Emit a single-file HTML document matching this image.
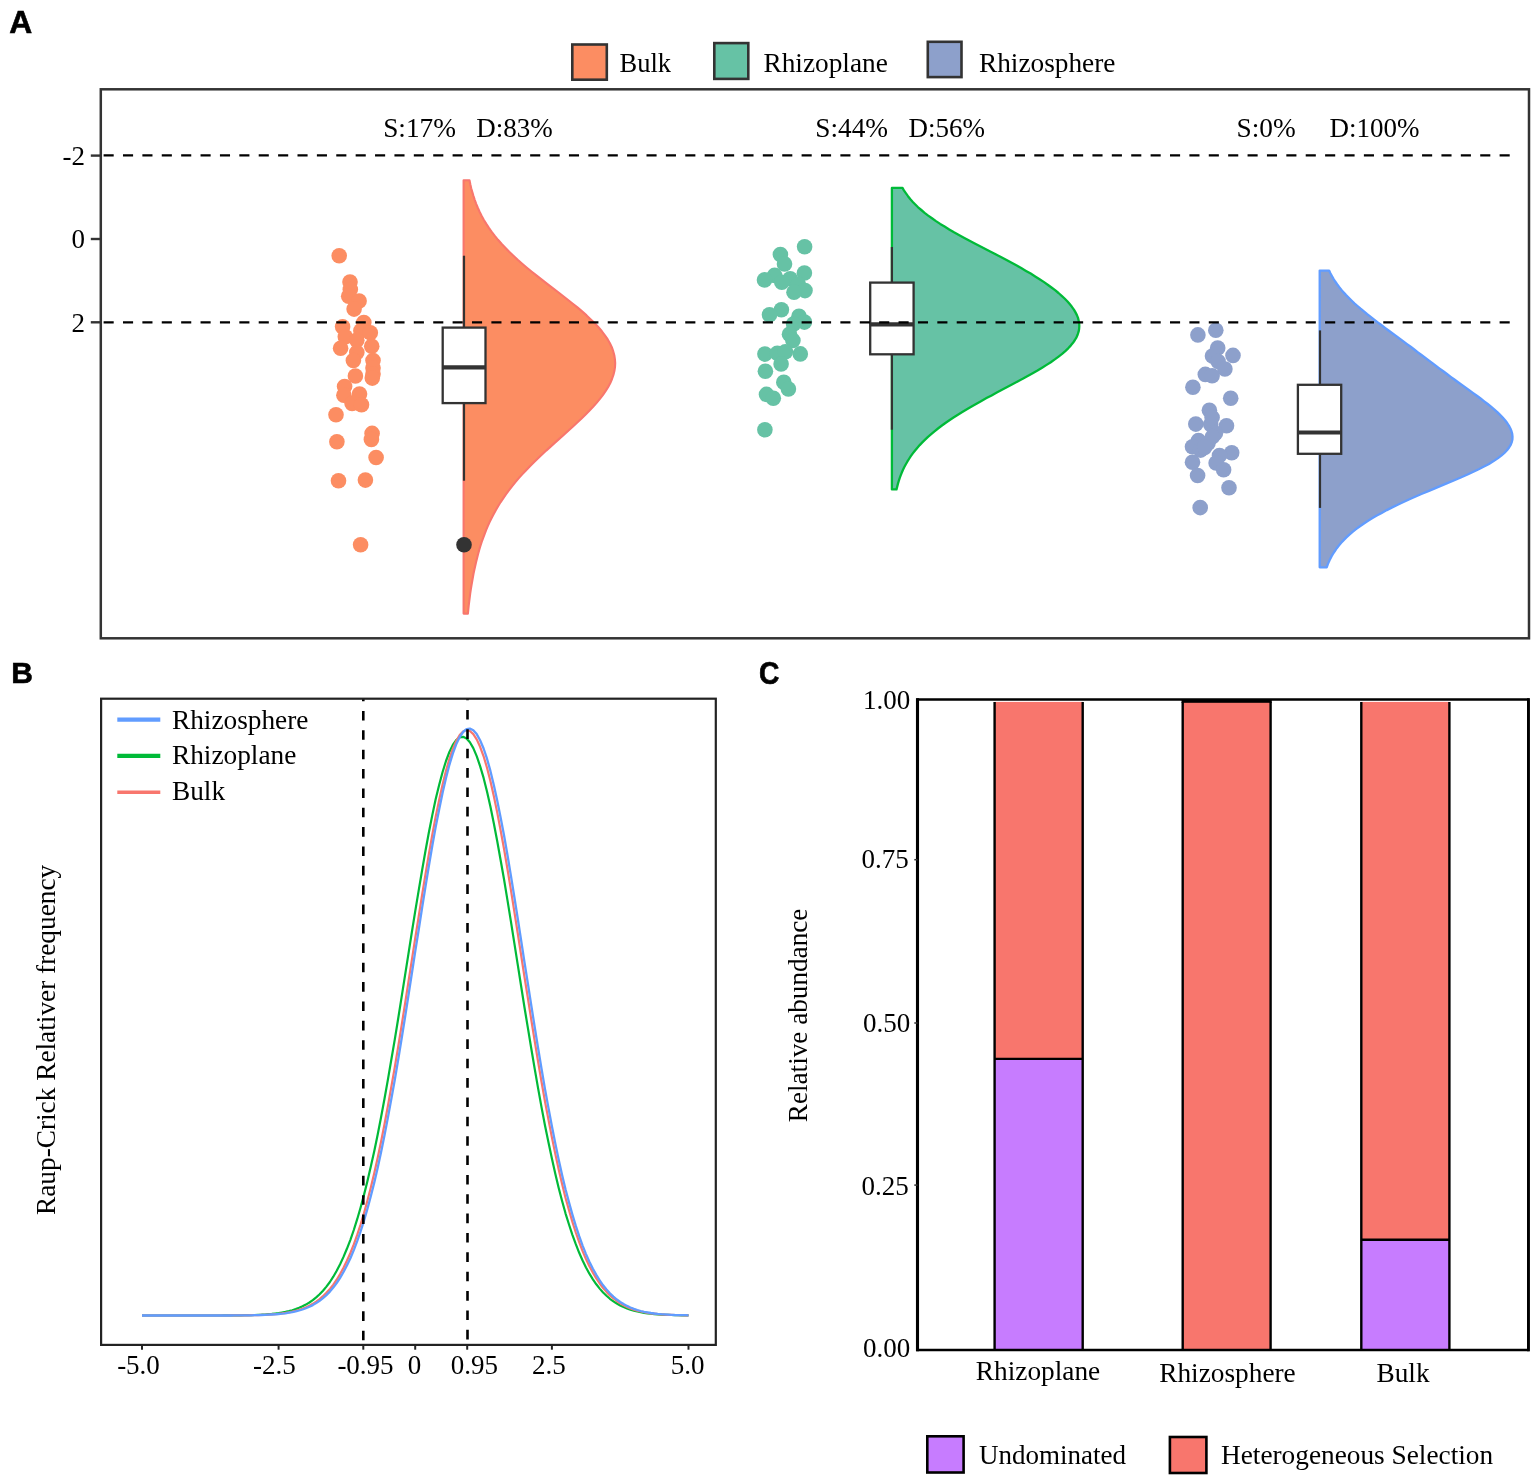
<!DOCTYPE html>
<html lang="en"><head><meta charset="utf-8"><title>Figure</title>
<style>html,body{margin:0;padding:0;background:#fff}svg{display:block}text{font-family:"Liberation Serif", "Times New Roman", serif;font-size:27.3px;fill:#000}.tk{font-size:27px}.lab{font-family:"Liberation Sans", Arial, sans-serif;font-weight:bold;font-size:30.4px;stroke:#000;stroke-width:0.6px}</style></head><body>
<svg width="1535" height="1479" viewBox="0 0 1535 1479">
<rect x="0" y="0" width="1535" height="1479" fill="#fff"/>
<g id="panelA">
<text x="9.3" y="32.7" class="lab" style="font-size:31.8px">A</text>
<rect x="572.3" y="44.5" width="34.5" height="35.2" fill="#FC8D62" stroke="#333" stroke-width="2.6"/>
<text x="619.5" y="72.1" style="font-size:26.5px">Bulk</text>
<rect x="714.3" y="43.1" width="34" height="35.8" fill="#66C2A5" stroke="#333" stroke-width="2.6"/>
<text x="763.5" y="72.1">Rhizoplane</text>
<rect x="927.8" y="41.8" width="33.7" height="35.3" fill="#8DA0CB" stroke="#333" stroke-width="2.6"/>
<text x="979" y="72.1">Rhizosphere</text>
<path d="M463.6,180.2 L469.5,180.2 L470.3,184.2 L471.2,188.2 L472.3,192.1 L473.5,196.1 L474.8,200.1 L476.3,204.1 L477.9,208.0 L479.7,212.0 L481.7,216.0 L483.9,220.0 L486.3,223.9 L488.9,227.9 L491.7,231.9 L494.8,235.9 L498.0,239.8 L501.5,243.8 L505.3,247.8 L509.2,251.8 L513.4,255.7 L517.7,259.7 L522.2,263.7 L526.9,267.7 L531.8,271.7 L536.7,275.6 L541.8,279.6 L546.9,283.6 L552.1,287.6 L557.3,291.5 L562.4,295.5 L567.5,299.5 L572.5,303.5 L577.4,307.4 L582.1,311.4 L586.6,315.4 L590.8,319.4 L594.8,323.3 L598.5,327.3 L601.9,331.3 L604.9,335.3 L607.6,339.2 L609.9,343.2 L611.8,347.2 L613.2,351.2 L614.3,355.2 L614.9,359.1 L615.2,363.1 L615.0,367.1 L614.4,371.1 L613.4,375.0 L612.0,379.0 L610.3,383.0 L608.2,387.0 L605.7,390.9 L603.0,394.9 L599.9,398.9 L596.6,402.9 L593.1,406.8 L589.3,410.8 L585.4,414.8 L581.3,418.8 L577.0,422.7 L572.7,426.7 L568.3,430.7 L563.9,434.7 L559.5,438.6 L555.0,442.6 L550.6,446.6 L546.2,450.6 L542.0,454.6 L537.8,458.5 L533.7,462.5 L529.7,466.5 L525.9,470.5 L522.2,474.4 L518.6,478.4 L515.2,482.4 L512.0,486.4 L508.9,490.3 L505.9,494.3 L503.2,498.3 L500.5,502.3 L498.1,506.2 L495.8,510.2 L493.6,514.2 L491.5,518.2 L489.6,522.1 L487.8,526.1 L486.1,530.1 L484.6,534.1 L483.1,538.1 L481.7,542.0 L480.4,546.0 L479.2,550.0 L478.1,554.0 L477.1,557.9 L476.1,561.9 L475.2,565.9 L474.3,569.9 L473.5,573.8 L472.8,577.8 L472.1,581.8 L471.4,585.8 L470.8,589.7 L470.2,593.7 L469.7,597.7 L469.2,601.7 L468.7,605.6 L468.3,609.6 L467.9,613.6 L463.6,613.6 Z" fill="#FC8D62" stroke="#F8766D" stroke-width="2.1" stroke-linejoin="round"/>
<path d="M891.9,187.9 L902.5,187.9 L904.1,190.7 L906.0,193.4 L908.0,196.2 L910.2,199.0 L912.6,201.7 L915.3,204.5 L918.1,207.3 L921.3,210.0 L924.6,212.8 L928.2,215.6 L932.0,218.3 L936.0,221.1 L940.2,223.9 L944.6,226.6 L949.2,229.4 L954.0,232.2 L958.9,234.9 L963.9,237.7 L969.1,240.5 L974.3,243.2 L979.6,246.0 L984.9,248.8 L990.2,251.5 L995.6,254.3 L1000.9,257.1 L1006.1,259.8 L1011.2,262.6 L1016.3,265.3 L1021.2,268.1 L1026.0,270.9 L1030.7,273.6 L1035.2,276.4 L1039.6,279.2 L1043.7,281.9 L1047.7,284.7 L1051.5,287.5 L1055.1,290.2 L1058.5,293.0 L1061.7,295.8 L1064.6,298.5 L1067.3,301.3 L1069.7,304.1 L1071.9,306.8 L1073.9,309.6 L1075.5,312.4 L1076.9,315.1 L1078.0,317.9 L1078.7,320.7 L1079.2,323.4 L1079.3,326.2 L1079.1,329.0 L1078.6,331.7 L1077.7,334.5 L1076.5,337.3 L1074.9,340.0 L1073.0,342.8 L1070.7,345.6 L1068.2,348.3 L1065.3,351.1 L1062.1,353.9 L1058.6,356.6 L1054.8,359.4 L1050.8,362.2 L1046.6,364.9 L1042.1,367.7 L1037.5,370.5 L1032.7,373.2 L1027.7,376.0 L1022.7,378.8 L1017.6,381.5 L1012.4,384.3 L1007.2,387.1 L1002.0,389.8 L996.8,392.6 L991.6,395.4 L986.5,398.1 L981.4,400.9 L976.5,403.7 L971.6,406.4 L966.9,409.2 L962.3,412.0 L957.9,414.7 L953.5,417.5 L949.4,420.2 L945.4,423.0 L941.6,425.8 L938.0,428.5 L934.5,431.3 L931.2,434.1 L928.0,436.8 L925.1,439.6 L922.3,442.4 L919.7,445.1 L917.2,447.9 L914.9,450.7 L912.8,453.4 L910.8,456.2 L909.0,459.0 L907.3,461.7 L905.7,464.5 L904.2,467.3 L902.9,470.0 L901.7,472.8 L900.6,475.6 L899.6,478.3 L898.7,481.1 L897.9,483.9 L897.2,486.6 L896.5,489.4 L891.9,489.4 Z" fill="#66C2A5" stroke="#00BA38" stroke-width="2.3" stroke-linejoin="round"/>
<path d="M1319.7,270.6 L1329.1,270.6 L1330.4,273.3 L1331.9,276.0 L1333.5,278.8 L1335.2,281.5 L1337.1,284.2 L1339.1,286.9 L1341.3,289.7 L1343.6,292.4 L1346.1,295.1 L1348.8,297.8 L1351.5,300.5 L1354.4,303.3 L1357.5,306.0 L1360.6,308.7 L1363.9,311.4 L1367.2,314.2 L1370.7,316.9 L1374.2,319.6 L1377.7,322.3 L1381.3,325.0 L1385.0,327.8 L1388.6,330.5 L1392.3,333.2 L1396.0,335.9 L1399.7,338.7 L1403.4,341.4 L1407.0,344.1 L1410.7,346.8 L1414.3,349.5 L1417.9,352.3 L1421.5,355.0 L1425.1,357.7 L1428.7,360.4 L1432.4,363.1 L1436.0,365.9 L1439.6,368.6 L1443.3,371.3 L1447.0,374.0 L1450.7,376.8 L1454.4,379.5 L1458.1,382.2 L1461.9,384.9 L1465.7,387.6 L1469.5,390.4 L1473.2,393.1 L1476.9,395.8 L1480.6,398.5 L1484.2,401.3 L1487.7,404.0 L1491.0,406.7 L1494.2,409.4 L1497.3,412.1 L1500.1,414.9 L1502.7,417.6 L1505.1,420.3 L1507.2,423.0 L1509.0,425.8 L1510.4,428.5 L1511.5,431.2 L1512.2,433.9 L1512.5,436.6 L1512.4,439.4 L1511.8,442.1 L1510.7,444.8 L1509.1,447.5 L1507.0,450.3 L1504.4,453.0 L1501.3,455.7 L1497.7,458.4 L1493.6,461.1 L1489.0,463.9 L1484.0,466.6 L1478.7,469.3 L1472.9,472.0 L1467.0,474.8 L1460.8,477.5 L1454.4,480.2 L1447.9,482.9 L1441.4,485.6 L1434.9,488.4 L1428.4,491.1 L1422.0,493.8 L1415.7,496.5 L1409.5,499.2 L1403.5,502.0 L1397.7,504.7 L1392.2,507.4 L1386.8,510.1 L1381.7,512.9 L1376.8,515.6 L1372.1,518.3 L1367.7,521.0 L1363.6,523.7 L1359.6,526.5 L1356.0,529.2 L1352.6,531.9 L1349.4,534.6 L1346.4,537.4 L1343.7,540.1 L1341.2,542.8 L1338.9,545.5 L1336.8,548.2 L1334.9,551.0 L1333.1,553.7 L1331.5,556.4 L1330.1,559.1 L1328.8,561.9 L1327.7,564.6 L1326.7,567.3 L1319.7,567.3 Z" fill="#8DA0CB" stroke="#619CFF" stroke-width="2.3" stroke-linejoin="round"/>
<g fill="#FC8D62"><circle cx="339.2" cy="255.7" r="7.8"/><circle cx="350.0" cy="282.1" r="7.8"/><circle cx="350.3" cy="289.5" r="7.8"/><circle cx="348.7" cy="296.3" r="7.8"/><circle cx="359.1" cy="301.0" r="7.8"/><circle cx="354.1" cy="309.1" r="7.8"/><circle cx="363.8" cy="322.6" r="7.8"/><circle cx="342.6" cy="326.7" r="7.8"/><circle cx="360.9" cy="330.7" r="7.8"/><circle cx="370.3" cy="332.8" r="7.8"/><circle cx="345.3" cy="336.8" r="7.8"/><circle cx="356.8" cy="340.2" r="7.8"/><circle cx="371.7" cy="346.3" r="7.8"/><circle cx="340.6" cy="348.3" r="7.8"/><circle cx="356.8" cy="352.4" r="7.8"/><circle cx="373.0" cy="360.5" r="7.8"/><circle cx="353.4" cy="360.5" r="7.8"/><circle cx="373.0" cy="367.9" r="7.8"/><circle cx="355.4" cy="376.0" r="7.8"/><circle cx="373.0" cy="374.0" r="7.8"/><circle cx="372.3" cy="378.1" r="7.8"/><circle cx="344.6" cy="386.5" r="7.8"/><circle cx="359.5" cy="394.0" r="7.8"/><circle cx="343.9" cy="395.3" r="7.8"/><circle cx="352.1" cy="403.4" r="7.8"/><circle cx="361.5" cy="404.7" r="7.8"/><circle cx="336.0" cy="414.7" r="7.8"/><circle cx="372.1" cy="433.4" r="7.8"/><circle cx="371.4" cy="439.5" r="7.8"/><circle cx="336.9" cy="441.8" r="7.8"/><circle cx="376.1" cy="457.5" r="7.8"/><circle cx="338.5" cy="480.7" r="7.8"/><circle cx="365.4" cy="480.1" r="7.8"/><circle cx="360.6" cy="544.7" r="7.8"/></g>
<g fill="#66C2A5"><circle cx="804.6" cy="246.8" r="7.8"/><circle cx="780.4" cy="254.5" r="7.8"/><circle cx="784.5" cy="263.9" r="7.8"/><circle cx="804.4" cy="273.0" r="7.8"/><circle cx="774.6" cy="275.4" r="7.8"/><circle cx="764.5" cy="279.9" r="7.8"/><circle cx="790.2" cy="278.8" r="7.8"/><circle cx="781.8" cy="282.2" r="7.8"/><circle cx="798.3" cy="284.2" r="7.8"/><circle cx="805.0" cy="290.6" r="7.8"/><circle cx="794.0" cy="292.3" r="7.8"/><circle cx="781.4" cy="309.7" r="7.8"/><circle cx="769.5" cy="314.7" r="7.8"/><circle cx="799.0" cy="316.3" r="7.8"/><circle cx="804.4" cy="322.1" r="7.8"/><circle cx="793.6" cy="324.1" r="7.8"/><circle cx="789.5" cy="334.3" r="7.8"/><circle cx="792.9" cy="340.4" r="7.8"/><circle cx="800.3" cy="353.9" r="7.8"/><circle cx="764.9" cy="354.1" r="7.8"/><circle cx="777.3" cy="353.2" r="7.8"/><circle cx="785.4" cy="351.8" r="7.8"/><circle cx="781.1" cy="364.0" r="7.8"/><circle cx="765.4" cy="371.2" r="7.8"/><circle cx="783.8" cy="382.3" r="7.8"/><circle cx="788.4" cy="389.0" r="7.8"/><circle cx="766.5" cy="394.4" r="7.8"/><circle cx="773.3" cy="398.2" r="7.8"/><circle cx="764.9" cy="429.7" r="7.8"/></g>
<g fill="#8DA0CB"><circle cx="1215.8" cy="330.2" r="7.8"/><circle cx="1197.9" cy="334.9" r="7.8"/><circle cx="1217.7" cy="348.0" r="7.8"/><circle cx="1233.0" cy="355.4" r="7.8"/><circle cx="1212.5" cy="356.1" r="7.8"/><circle cx="1218.1" cy="361.5" r="7.8"/><circle cx="1224.9" cy="369.0" r="7.8"/><circle cx="1205.3" cy="374.4" r="7.8"/><circle cx="1212.1" cy="375.7" r="7.8"/><circle cx="1192.9" cy="387.2" r="7.8"/><circle cx="1230.7" cy="398.3" r="7.8"/><circle cx="1209.4" cy="410.2" r="7.8"/><circle cx="1195.8" cy="424.1" r="7.8"/><circle cx="1210.7" cy="424.4" r="7.8"/><circle cx="1226.5" cy="425.8" r="7.8"/><circle cx="1215.4" cy="433.2" r="7.8"/><circle cx="1198.5" cy="440.6" r="7.8"/><circle cx="1208.0" cy="443.3" r="7.8"/><circle cx="1192.5" cy="446.7" r="7.8"/><circle cx="1200.6" cy="450.1" r="7.8"/><circle cx="1231.7" cy="452.8" r="7.8"/><circle cx="1219.5" cy="455.5" r="7.8"/><circle cx="1192.5" cy="462.3" r="7.8"/><circle cx="1216.1" cy="463.0" r="7.8"/><circle cx="1223.6" cy="469.7" r="7.8"/><circle cx="1197.6" cy="475.5" r="7.8"/><circle cx="1229.0" cy="487.7" r="7.8"/><circle cx="1200.2" cy="507.6" r="7.8"/><circle cx="1212.1" cy="417.6" r="7.8"/><circle cx="1212.7" cy="436.6" r="7.8"/><circle cx="1204.6" cy="447.4" r="7.8"/></g>
<line x1="464" y1="255.7" x2="464" y2="327.6" stroke="#333" stroke-width="2.2"/>
<line x1="464" y1="403.1" x2="464" y2="480.7" stroke="#333" stroke-width="2.2"/>
<rect x="442.7" y="327.6" width="42.8" height="75.5" fill="#fff" stroke="#333" stroke-width="2.3"/>
<line x1="442.7" y1="367.3" x2="485.5" y2="367.3" stroke="#333" stroke-width="4.2"/>
<line x1="891.9" y1="247" x2="891.9" y2="282.6" stroke="#333" stroke-width="2.2"/>
<line x1="891.9" y1="354.3" x2="891.9" y2="429.7" stroke="#333" stroke-width="2.2"/>
<rect x="870.2" y="282.6" width="43.4" height="71.7" fill="#fff" stroke="#333" stroke-width="2.3"/>
<line x1="870.2" y1="324.4" x2="913.6" y2="324.4" stroke="#333" stroke-width="4.2"/>
<line x1="1320" y1="330.4" x2="1320" y2="384.8" stroke="#333" stroke-width="2.2"/>
<line x1="1320" y1="453.8" x2="1320" y2="507.9" stroke="#333" stroke-width="2.2"/>
<rect x="1297.9" y="384.8" width="43.3" height="69.0" fill="#fff" stroke="#333" stroke-width="2.3"/>
<line x1="1297.9" y1="432.5" x2="1341.2" y2="432.5" stroke="#333" stroke-width="4.2"/>
<circle cx="464" cy="544.7" r="7.8" fill="#333"/>
<line x1="103.6" y1="155.4" x2="1511" y2="155.4" stroke="#000" stroke-width="2.3" stroke-dasharray="10.1 9.289"/>
<line x1="103.6" y1="322.4" x2="1511" y2="322.4" stroke="#000" stroke-width="2.3" stroke-dasharray="10.1 9.289"/>
<rect x="100.8" y="89.3" width="1428.2" height="549.0" fill="none" stroke="#333" stroke-width="2.5"/>
<line x1="90.8" y1="155.6" x2="100.8" y2="155.6" stroke="#333" stroke-width="2.4"/>
<text x="85" y="164.6" class="tk" text-anchor="end">-2</text>
<line x1="90.8" y1="239" x2="100.8" y2="239" stroke="#333" stroke-width="2.4"/>
<text x="85" y="248" class="tk" text-anchor="end">0</text>
<line x1="90.8" y1="322.3" x2="100.8" y2="322.3" stroke="#333" stroke-width="2.4"/>
<text x="85" y="332.3" class="tk" text-anchor="end">2</text>
<text x="383.2" y="137.2" style="font-size:27.3px">S:17%</text>
<text x="476.2" y="137.2" style="font-size:27px">D:83%</text>
<text x="815.3" y="137.2" style="font-size:27.3px">S:44%</text>
<text x="908.5" y="137.2" style="font-size:27px">D:56%</text>
<text x="1236.6" y="136.8" style="font-size:27.3px">S:0%</text>
<text x="1329.5" y="136.8" style="font-size:27px">D:100%</text>
</g>
<g id="panelB">
<text x="11.2" y="682.6" class="lab" style="font-size:30px">B</text>
<path d="M142.0,1315.5 L145.4,1315.5 L148.8,1315.5 L152.2,1315.5 L155.7,1315.5 L159.1,1315.5 L162.5,1315.5 L165.9,1315.5 L169.3,1315.5 L172.7,1315.5 L176.2,1315.5 L179.6,1315.5 L183.0,1315.5 L186.4,1315.5 L189.8,1315.5 L193.2,1315.5 L196.7,1315.5 L200.1,1315.5 L203.5,1315.5 L206.9,1315.5 L210.3,1315.5 L213.7,1315.5 L217.1,1315.5 L220.6,1315.5 L224.0,1315.4 L227.4,1315.4 L230.8,1315.4 L234.2,1315.4 L237.6,1315.3 L241.1,1315.3 L244.5,1315.2 L247.9,1315.2 L251.3,1315.1 L254.7,1315.0 L258.1,1314.8 L261.5,1314.7 L265.0,1314.5 L268.4,1314.2 L271.8,1313.9 L275.2,1313.5 L278.6,1313.1 L282.0,1312.5 L285.5,1311.9 L288.9,1311.1 L292.3,1310.2 L295.7,1309.1 L299.1,1307.8 L302.5,1306.3 L305.9,1304.6 L309.4,1302.5 L312.8,1300.2 L316.2,1297.4 L319.6,1294.3 L323.0,1290.7 L326.4,1286.6 L329.9,1282.0 L333.3,1276.7 L336.7,1270.8 L340.1,1264.3 L343.5,1256.9 L346.9,1248.8 L350.4,1239.8 L353.8,1230.0 L357.2,1219.2 L360.6,1207.5 L364.0,1194.9 L367.4,1181.2 L370.8,1166.6 L374.3,1151.0 L377.7,1134.5 L381.1,1117.0 L384.5,1098.7 L387.9,1079.6 L391.3,1059.8 L394.8,1039.4 L398.2,1018.5 L401.6,997.2 L405.0,975.7 L408.4,954.1 L411.8,932.5 L415.2,911.3 L418.7,890.4 L422.1,870.2 L425.5,850.8 L428.9,832.3 L432.3,815.1 L435.7,799.1 L439.2,784.7 L442.6,772.0 L446.0,761.0 L449.4,752.0 L452.8,745.0 L456.2,740.1 L459.7,737.3 L463.1,736.8 L466.5,738.4 L469.9,742.2 L473.3,748.1 L476.7,756.1 L480.1,766.1 L483.6,777.9 L487.0,791.5 L490.4,806.6 L493.8,823.2 L497.2,841.0 L500.6,860.0 L504.1,879.8 L507.5,900.4 L510.9,921.4 L514.3,942.9 L517.7,964.4 L521.1,986.0 L524.5,1007.5 L528.0,1028.6 L531.4,1049.3 L534.8,1069.4 L538.2,1088.9 L541.6,1107.6 L545.0,1125.5 L548.5,1142.5 L551.9,1158.6 L555.3,1173.7 L558.7,1187.9 L562.1,1201.1 L565.5,1213.3 L569.0,1224.5 L572.4,1234.8 L575.8,1244.2 L579.2,1252.8 L582.6,1260.5 L586.0,1267.5 L589.4,1273.7 L592.9,1279.3 L596.3,1284.3 L599.7,1288.6 L603.1,1292.5 L606.5,1295.8 L609.9,1298.8 L613.4,1301.3 L616.8,1303.5 L620.2,1305.5 L623.6,1307.1 L627.0,1308.5 L630.4,1309.7 L633.9,1310.7 L637.3,1311.5 L640.7,1312.2 L644.1,1312.8 L647.5,1313.3 L650.9,1313.7 L654.3,1314.1 L657.8,1314.3 L661.2,1314.6 L664.6,1314.8 L668.0,1314.9 L671.4,1315.0 L674.8,1315.1 L678.3,1315.2 L681.7,1315.3 L685.1,1315.3 L688.5,1315.4" fill="none" stroke="#00BA38" stroke-width="2.2" stroke-linejoin="round"/>
<path d="M142.0,1315.5 L145.4,1315.5 L148.8,1315.5 L152.2,1315.5 L155.7,1315.5 L159.1,1315.5 L162.5,1315.5 L165.9,1315.5 L169.3,1315.5 L172.7,1315.5 L176.2,1315.5 L179.6,1315.5 L183.0,1315.5 L186.4,1315.5 L189.8,1315.5 L193.2,1315.5 L196.7,1315.5 L200.1,1315.5 L203.5,1315.5 L206.9,1315.5 L210.3,1315.5 L213.7,1315.5 L217.1,1315.5 L220.6,1315.5 L224.0,1315.5 L227.4,1315.5 L230.8,1315.4 L234.2,1315.4 L237.6,1315.4 L241.1,1315.4 L244.5,1315.3 L247.9,1315.3 L251.3,1315.2 L254.7,1315.1 L258.1,1315.1 L261.5,1314.9 L265.0,1314.8 L268.4,1314.6 L271.8,1314.4 L275.2,1314.1 L278.6,1313.8 L282.0,1313.4 L285.5,1312.9 L288.9,1312.3 L292.3,1311.6 L295.7,1310.8 L299.1,1309.8 L302.5,1308.7 L305.9,1307.3 L309.4,1305.7 L312.8,1303.8 L316.2,1301.6 L319.6,1299.1 L323.0,1296.2 L326.4,1292.8 L329.9,1289.0 L333.3,1284.6 L336.7,1279.7 L340.1,1274.1 L343.5,1267.8 L346.9,1260.8 L350.4,1253.0 L353.8,1244.4 L357.2,1234.9 L360.6,1224.5 L364.0,1213.1 L367.4,1200.8 L370.8,1187.5 L374.3,1173.1 L377.7,1157.8 L381.1,1141.5 L384.5,1124.2 L387.9,1106.0 L391.3,1087.0 L394.8,1067.1 L398.2,1046.7 L401.6,1025.6 L405.0,1004.1 L408.4,982.2 L411.8,960.3 L415.2,938.3 L418.7,916.5 L422.1,895.0 L425.5,874.1 L428.9,853.9 L432.3,834.7 L435.7,816.6 L439.2,799.8 L442.6,784.5 L446.0,770.8 L449.4,758.9 L452.8,748.9 L456.2,741.0 L459.7,735.1 L463.1,731.5 L466.5,730.1 L469.9,731.0 L473.3,734.1 L476.7,739.4 L480.1,746.8 L483.6,756.3 L487.0,767.7 L490.4,781.0 L493.8,796.0 L497.2,812.4 L500.6,830.3 L504.1,849.2 L507.5,869.2 L510.9,889.9 L514.3,911.3 L517.7,933.0 L521.1,955.0 L524.5,977.0 L528.0,998.9 L531.4,1020.5 L534.8,1041.6 L538.2,1062.3 L541.6,1082.3 L545.0,1101.5 L548.5,1119.9 L551.9,1137.4 L555.3,1153.9 L558.7,1169.5 L562.1,1184.1 L565.5,1197.7 L569.0,1210.3 L572.4,1221.9 L575.8,1232.5 L579.2,1242.2 L582.6,1251.1 L586.0,1259.0 L589.4,1266.2 L592.9,1272.6 L596.3,1278.4 L599.7,1283.5 L603.1,1288.0 L606.5,1291.9 L609.9,1295.4 L613.4,1298.4 L616.8,1301.0 L620.2,1303.3 L623.6,1305.3 L627.0,1306.9 L630.4,1308.4 L633.9,1309.6 L637.3,1310.6 L640.7,1311.5 L644.1,1312.2 L647.5,1312.8 L650.9,1313.3 L654.3,1313.7 L657.8,1314.1 L661.2,1314.3 L664.6,1314.6 L668.0,1314.8 L671.4,1314.9 L674.8,1315.0 L678.3,1315.1 L681.7,1315.2 L685.1,1315.3 L688.5,1315.3" fill="none" stroke="#F8766D" stroke-width="2.2" stroke-linejoin="round"/>
<path d="M142.0,1315.5 L145.4,1315.5 L148.8,1315.5 L152.2,1315.5 L155.7,1315.5 L159.1,1315.5 L162.5,1315.5 L165.9,1315.5 L169.3,1315.5 L172.7,1315.5 L176.2,1315.5 L179.6,1315.5 L183.0,1315.5 L186.4,1315.5 L189.8,1315.5 L193.2,1315.5 L196.7,1315.5 L200.1,1315.5 L203.5,1315.5 L206.9,1315.5 L210.3,1315.5 L213.7,1315.5 L217.1,1315.5 L220.6,1315.5 L224.0,1315.5 L227.4,1315.5 L230.8,1315.5 L234.2,1315.4 L237.6,1315.4 L241.1,1315.4 L244.5,1315.4 L247.9,1315.3 L251.3,1315.3 L254.7,1315.2 L258.1,1315.1 L261.5,1315.0 L265.0,1314.9 L268.4,1314.7 L271.8,1314.5 L275.2,1314.3 L278.6,1314.0 L282.0,1313.7 L285.5,1313.3 L288.9,1312.7 L292.3,1312.1 L295.7,1311.4 L299.1,1310.5 L302.5,1309.5 L305.9,1308.2 L309.4,1306.8 L312.8,1305.1 L316.2,1303.1 L319.6,1300.8 L323.0,1298.2 L326.4,1295.1 L329.9,1291.6 L333.3,1287.6 L336.7,1283.0 L340.1,1277.8 L343.5,1272.0 L346.9,1265.5 L350.4,1258.2 L353.8,1250.1 L357.2,1241.2 L360.6,1231.4 L364.0,1220.6 L367.4,1208.9 L370.8,1196.2 L374.3,1182.4 L377.7,1167.7 L381.1,1152.0 L384.5,1135.3 L387.9,1117.6 L391.3,1099.1 L394.8,1079.7 L398.2,1059.6 L401.6,1038.8 L405.0,1017.5 L408.4,995.8 L411.8,973.8 L415.2,951.7 L418.7,929.7 L422.1,907.9 L425.5,886.5 L428.9,865.8 L432.3,845.8 L435.7,826.9 L439.2,809.2 L442.6,792.8 L446.0,778.0 L449.4,764.8 L452.8,753.6 L456.2,744.3 L459.7,737.0 L463.1,732.0 L466.5,729.2 L469.9,728.6 L473.3,730.2 L476.7,734.1 L480.1,740.2 L483.6,748.5 L487.0,758.7 L490.4,770.9 L493.8,784.9 L497.2,800.5 L500.6,817.5 L504.1,835.8 L507.5,855.3 L510.9,875.6 L514.3,896.7 L517.7,918.3 L521.1,940.2 L524.5,962.3 L528.0,984.4 L531.4,1006.2 L534.8,1027.8 L538.2,1048.8 L541.6,1069.3 L545.0,1089.1 L548.5,1108.1 L551.9,1126.2 L555.3,1143.4 L558.7,1159.7 L562.1,1174.9 L565.5,1189.2 L569.0,1202.4 L572.4,1214.6 L575.8,1225.9 L579.2,1236.2 L582.6,1245.6 L586.0,1254.1 L589.4,1261.8 L592.9,1268.7 L596.3,1274.9 L599.7,1280.4 L603.1,1285.3 L606.5,1289.5 L609.9,1293.3 L613.4,1296.6 L616.8,1299.5 L620.2,1302.0 L623.6,1304.1 L627.0,1305.9 L630.4,1307.5 L633.9,1308.9 L637.3,1310.0 L640.7,1311.0 L644.1,1311.8 L647.5,1312.4 L650.9,1313.0 L654.3,1313.5 L657.8,1313.9 L661.2,1314.2 L664.6,1314.4 L668.0,1314.6 L671.4,1314.8 L674.8,1315.0 L678.3,1315.1 L681.7,1315.2 L685.1,1315.2 L688.5,1315.3" fill="none" stroke="#619CFF" stroke-width="2.3" stroke-linejoin="round"/>
<line x1="363.3" y1="698.7" x2="363.3" y2="1341.9" stroke="#000" stroke-width="2.6" stroke-dasharray="9.6 9.77" stroke-dashoffset="7.17"/>
<line x1="467.5" y1="698.7" x2="467.5" y2="1341.9" stroke="#000" stroke-width="2.6" stroke-dasharray="9.6 9.77" stroke-dashoffset="8.07"/>
<rect x="101.1" y="698.7" width="614.7" height="646.2" fill="none" stroke="#222" stroke-width="2.2"/>
<line x1="142.0" y1="1344.9" x2="142.0" y2="1349.7" stroke="#222" stroke-width="2"/>
<text x="138.5" y="1373.9" class="tk" text-anchor="middle">-5.0</text>
<line x1="278.6" y1="1344.9" x2="278.6" y2="1349.7" stroke="#222" stroke-width="2"/>
<text x="274.4" y="1373.9" class="tk" text-anchor="middle">-2.5</text>
<line x1="363.3" y1="1344.9" x2="363.3" y2="1349.7" stroke="#222" stroke-width="2"/>
<text x="365.5" y="1373.9" class="tk" text-anchor="middle">-0.95</text>
<line x1="415.2" y1="1344.9" x2="415.2" y2="1349.7" stroke="#222" stroke-width="2"/>
<text x="414.4" y="1373.9" class="tk" text-anchor="middle">0</text>
<line x1="467.2" y1="1344.9" x2="467.2" y2="1349.7" stroke="#222" stroke-width="2"/>
<text x="474.3" y="1373.9" class="tk" text-anchor="middle">0.95</text>
<line x1="551.9" y1="1344.9" x2="551.9" y2="1349.7" stroke="#222" stroke-width="2"/>
<text x="548.8" y="1373.9" class="tk" text-anchor="middle">2.5</text>
<line x1="688.5" y1="1344.9" x2="688.5" y2="1349.7" stroke="#222" stroke-width="2"/>
<text x="687.5" y="1373.9" class="tk" text-anchor="middle">5.0</text>
<line x1="117.3" y1="719.7" x2="160.3" y2="719.7" stroke="#619CFF" stroke-width="4.3"/>
<text x="172" y="728.6">Rhizosphere</text>
<line x1="117.3" y1="755.8" x2="160.3" y2="755.8" stroke="#00BA38" stroke-width="4.3"/>
<text x="172" y="764.4">Rhizoplane</text>
<line x1="117.3" y1="792.2" x2="160.3" y2="792.2" stroke="#F8766D" stroke-width="3.5"/>
<text x="172" y="799.7">Bulk</text>
<text transform="translate(55.3,1039.9) rotate(-90)" text-anchor="middle">Raup-Crick Relativer frequency</text>
</g>
<g id="panelC">
<text class="lab" transform="translate(759.0,683.9) scale(0.93,1.03)">C</text>
<rect x="994.6" y="701.9" width="88.1" height="357.0" fill="#F8766D"/>
<rect x="994.6" y="1058.9" width="88.1" height="290.6" fill="#C77CFF"/>
<line x1="994.6" y1="1058.9" x2="1082.7" y2="1058.9" stroke="#000" stroke-width="2.4"/>
<line x1="994.6" y1="701.9" x2="994.6" y2="1349.5" stroke="#000" stroke-width="2.4"/>
<line x1="1082.7" y1="701.9" x2="1082.7" y2="1349.5" stroke="#000" stroke-width="2.4"/>
<text x="1038" y="1380.4" text-anchor="middle">Rhizoplane</text>
<rect x="1182.7" y="701.9" width="87.9" height="647.6" fill="#F8766D"/>
<line x1="1182.7" y1="701.9" x2="1182.7" y2="1349.5" stroke="#000" stroke-width="2.4"/>
<line x1="1270.6" y1="701.9" x2="1270.6" y2="1349.5" stroke="#000" stroke-width="2.4"/>
<rect x="1181.5" y="699.5" width="90.3" height="3.3" fill="#000"/>
<text x="1227.5" y="1381.7" text-anchor="middle">Rhizosphere</text>
<rect x="1361.3" y="701.9" width="88.1" height="537.9" fill="#F8766D"/>
<rect x="1361.3" y="1239.8" width="88.1" height="109.7" fill="#C77CFF"/>
<line x1="1361.3" y1="1239.8" x2="1449.4" y2="1239.8" stroke="#000" stroke-width="2.4"/>
<line x1="1361.3" y1="701.9" x2="1361.3" y2="1349.5" stroke="#000" stroke-width="2.4"/>
<line x1="1449.4" y1="701.9" x2="1449.4" y2="1349.5" stroke="#000" stroke-width="2.4"/>
<text x="1403" y="1381.7" text-anchor="middle">Bulk</text>
<rect x="917.5" y="699.5" width="610.9" height="650.5" fill="none" stroke="#000" stroke-width="2.5"/>
<line x1="917.5" y1="698.25" x2="917.5" y2="1351.25" stroke="#000" stroke-width="3.1"/>
<line x1="1528.4" y1="698.25" x2="1528.4" y2="1351.25" stroke="#000" stroke-width="2.8"/>
<text x="910.2" y="709.05" class="tk" text-anchor="end">1.00</text>
<line x1="914.3" y1="859.7" x2="917.5" y2="859.7" stroke="#333" stroke-width="1.5"/>
<text x="908.8" y="868.2" class="tk" text-anchor="end">0.75</text>
<line x1="914.3" y1="1023" x2="917.5" y2="1023" stroke="#333" stroke-width="1.5"/>
<text x="910.2" y="1032.2" class="tk" text-anchor="end">0.50</text>
<line x1="914.3" y1="1185.1" x2="917.5" y2="1185.1" stroke="#333" stroke-width="1.5"/>
<text x="908.8" y="1195.2" class="tk" text-anchor="end">0.25</text>
<text x="910.2" y="1356.5" class="tk" text-anchor="end">0.00</text>
<text transform="translate(807,1015.4) rotate(-90)" text-anchor="middle" style="font-size:27.2px">Relative abundance</text>
<rect x="927.3" y="1436.3" width="36.3" height="36.2" fill="#C77CFF" stroke="#000" stroke-width="2.6"/>
<text x="979" y="1464" style="font-size:27px">Undominated</text>
<rect x="1169.9" y="1437" width="36.5" height="36" fill="#F8766D" stroke="#000" stroke-width="2.6"/>
<text x="1221" y="1464">Heterogeneous Selection</text>
</g>
</svg></body></html>
